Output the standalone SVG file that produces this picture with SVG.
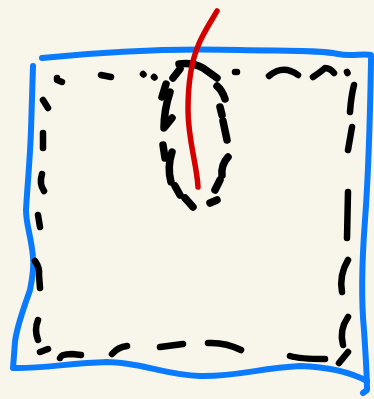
<svg xmlns="http://www.w3.org/2000/svg" width="374" height="399" viewBox="0 0 374 399">
<style>
.blue{fill:none;stroke:#0a7bff;stroke-width:6;stroke-linecap:round;stroke-linejoin:round}
.red{fill:none;stroke:#d40000;stroke-width:5.5;stroke-linecap:round}
.d{fill:none;stroke:#000;stroke-width:6.5;stroke-linecap:round;stroke-linejoin:round}
.e{fill:none;stroke:#000;stroke-width:7.5;stroke-linecap:round;stroke-linejoin:round}
</style>
<rect width="374" height="399" fill="#f8f6ea"/>
<g id="frame">
<path class="blue" d="M42,58 C100,52 170,48 240,50 C290,51 320,50 338,54 C352,57 362,53 371,55 L371,62 C370,120 368,180 365,220 C362,260 361,300 364,330 C366,360 367,375 367,390 L363,393"/>
<path class="blue" d="M367,381 C350,372 330,367 300,366 C260,368 235,377 200,376 C165,375 140,362 107,362 C70,363 40,369 13,368 L15,342 C17,325 25,305 30,290 C33,275 34,265 33,257 C31,235 26,225 26,210 C27,190 30,160 31,130 L33,66"/>
</g>
<g id="dashed-square">
<path class="d" d="M57,78 L57,80 L62,82"/>
<path class="d" d="M101,75 L111,77"/>
<path class="d" d="M143,74 L143.5,74.5"/>
<path class="d" d="M154,77 L154.5,77.5"/>
<path class="d" d="M235,72 L237,72"/>
<path class="d" d="M269,76 Q283,64 298,75"/>
<path class="d" d="M313,77 Q322,71 325,68 Q330,68 334,73"/>
<path class="d" d="M347,72 L347.5,73"/>
<path class="d" d="M354,85 Q351,97 350,112"/>
<path class="d" d="M352,127 L348,150"/>
<path class="d" d="M348,192 L347,238"/>
<path class="d" d="M348,260 Q339,275 342,292"/>
<path class="d" d="M348,317 Q339,330 343,345"/>
<path class="d" d="M348,352 L339,363"/>
<path class="d" d="M290,356 Q300,359 325,359"/>
<path class="d" d="M208,343 Q225,342 241,350"/>
<path class="d" d="M160,347 L183,344"/>
<path class="d" d="M112,354 Q118,347 127,346"/>
<path class="d" d="M60,358 Q61,354 72,354 L81,355"/>
<path class="d" d="M40,352 L48,349"/>
<path class="d" d="M38,320 Q34,330 38,340"/>
<path class="d" d="M35,261 Q40,268 39,275 L40,288"/>
<path class="d" d="M38,215 L40,227"/>
<path class="d" d="M42,174 Q39,184 44,191"/>
<path class="d" d="M43,133 L43,148"/>
<path class="d" d="M43,100 L48,108"/>
</g>
<g id="dashed-ellipse">
<path class="e" d="M173,78 L180,69"/>
<path class="e" d="M179,64 Q192,62 203,68 L217,78"/>
<path class="e" d="M217,86 Q222,90 225,99"/>
<path class="e" d="M220,107 L222,115"/>
<path class="e" d="M223,121 L227,140"/>
<path class="e" d="M228,157 Q221,165 222,175"/>
<path class="e" d="M220,180 L215,190"/>
<path class="e" d="M210,203 L217,200"/>
<path class="e" d="M185,198 L193,207"/>
<path class="e" d="M175,186 L180,195"/>
<path class="e" d="M172,152 Q167,167 171,182"/>
<path class="e" d="M163,145 L165,158"/>
<path class="e" d="M170,92 Q164,110 164,128 L172,118"/>
<path class="e" d="M166,84 L162,97"/>
</g>
<g id="red-line">
<path class="red" d="M217,11 C212,20 203,33 198,46 C190,65 188,85 188,110 C188,140 197,165 198,187"/>
</g>
</svg>
